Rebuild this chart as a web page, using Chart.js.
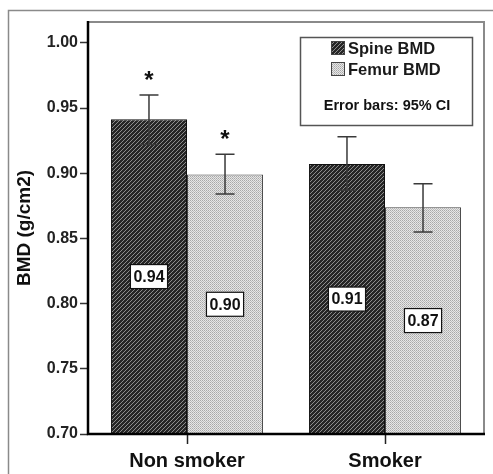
<!DOCTYPE html>
<html>
<head>
<meta charset="utf-8">
<script src="https://cdn.jsdelivr.net/npm/chart.js@4.4.1/dist/chart.umd.min.js"></script>
<style>
  html, body { margin: 0; padding: 0; background: #fff; }
  #wrap { width: 493px; height: 474px; position: relative; }
</style>
</head>
<body>
<div id="wrap"><canvas id="chart" width="493" height="474"></canvas></div>
<script>
// data
var categories = ['Non smoker', 'Smoker']
var spineBMD = [0.9415, 0.907]
var femurBMD = [0.899, 0.874]
var spineLow = [0.922, 0.887]
var spineHigh = [0.960, 0.928]
var femurLow = [0.884, 0.855]
var femurHigh = [0.9146, 0.892]
var spineStar = [true, false]
var femurStar = [true, false]
var yTicks = [0.70, 0.75, 0.80, 0.85, 0.90, 0.95, 1.00]

// fill patterns
function hatchPattern() {
    var c = document.createElement('canvas')
    c.width = 4; c.height = 4
    var g = c.getContext('2d')
    g.fillStyle = '#262626'
    g.fillRect(0, 0, 4, 4)
    g.fillStyle = '#8c8c8c'
    for (var i = 0; i < 4; i++) g.fillRect(3 - i, i, 1, 1)
    return g.createPattern(c, 'repeat')
}
function dotPattern() {
    var c = document.createElement('canvas')
    c.width = 2; c.height = 2
    var g = c.getContext('2d')
    g.fillStyle = '#e6e6e6'
    g.fillRect(0, 0, 2, 2)
    g.fillStyle = '#a8a8a8'
    g.fillRect(0, 0, 1, 1)
    g.fillStyle = '#bcbcbc'
    g.fillRect(1, 1, 1, 1)
    return g.createPattern(c, 'repeat')
}
var spineFill = hatchPattern()
var femurFill = dotPattern()

var errLow = [spineLow, femurLow]
var errHigh = [spineHigh, femurHigh]
var stars = [spineStar, femurStar]

var extras = {
    id: 'extras',
    afterDatasetsDraw: function(chart) {
        var c = chart.ctx
        var a = chart.chartArea
        var y = chart.scales.y
        c.save()

        // outer frame
        c.strokeStyle = '#8a8a8a'
        c.lineWidth = 1.5
        c.beginPath()
        c.moveTo(8.5, 474); c.lineTo(8.5, 10.5); c.lineTo(493, 10.5)
        c.stroke()

        // top / right plot frame
        c.strokeStyle = '#8a8a8a'
        c.lineWidth = 2
        c.beginPath()
        c.moveTo(a.left, a.top); c.lineTo(a.right, a.top); c.lineTo(a.right, a.bottom)
        c.stroke()

        // left / bottom axis
        c.strokeStyle = '#000'
        c.lineWidth = 2.5
        c.beginPath()
        c.moveTo(a.left, a.top - 1); c.lineTo(a.left, a.bottom); c.lineTo(a.right + 1, a.bottom)
        c.stroke()

        // error bars, stars and value boxes
        chart.data.datasets.forEach(function(ds, di) {
            var meta = chart.getDatasetMeta(di)
            meta.data.forEach(function(bar, i) {
                var x = bar.x
                var top = y.getPixelForValue(errHigh[di][i])
                var bot = y.getPixelForValue(errLow[di][i])
                c.strokeStyle = '#3a3a3a'
                c.lineWidth = 1.5
                c.beginPath()
                c.moveTo(x, top); c.lineTo(x, bot)
                c.moveTo(x - 9.5, top); c.lineTo(x + 9.5, top)
                c.moveTo(x - 9.5, bot); c.lineTo(x + 9.5, bot)
                c.stroke()

                if (stars[di][i]) {
                    c.fillStyle = '#111'
                    c.font = 'bold 24px Arial, "Liberation Sans"'
                    c.textAlign = 'center'
                    c.textBaseline = 'middle'
                    c.fillText('*', x, top - 14)
                }

                var label = ds.data[i].toFixed(2)
                var cy = (y.getPixelForValue(ds.data[i]) + a.bottom) / 2
                c.font = 'bold 16px Arial, "Liberation Sans"'
                var w = c.measureText(label).width + 6
                c.fillStyle = '#fff'
                c.fillRect(x - w / 2, cy - 12, w, 24)
                c.strokeStyle = '#111'
                c.lineWidth = 1.2
                c.strokeRect(x - w / 2, cy - 12, w, 24)
                c.fillStyle = '#111'
                c.textAlign = 'center'
                c.textBaseline = 'middle'
                c.fillText(label, x, cy + 1)
            })
        })

        // legend box
        var lx = a.right - 184, ly = a.top + 15, lw = 172, lh = 88
        c.strokeStyle = '#555'
        c.lineWidth = 1.5
        c.strokeRect(lx + 0.5, ly + 0.5, lw, lh)
        var items = [['Spine BMD', spineFill, 11], ['Femur BMD', femurFill, 32]]
        items.forEach(function(it) {
            c.fillStyle = it[1]
            c.fillRect(lx + 31, ly + it[2] - 7, 14, 14)
            c.strokeStyle = '#444'
            c.lineWidth = 1
            c.strokeRect(lx + 31.5, ly + it[2] - 6.5, 13, 13)
            c.fillStyle = '#1a1a1a'
            c.font = 'bold 16.5px Arial, "Liberation Sans"'
            c.textAlign = 'left'
            c.textBaseline = 'middle'
            c.fillText(it[0], lx + 48, ly + it[2] + 1)
        })
        c.fillStyle = '#111'
        c.font = 'bold 14.5px Arial, "Liberation Sans"'
        c.textAlign = 'center'
        c.fillText('Error bars: 95% CI', lx + lw / 2 + 1, ly + 69)

        c.restore()
    }
}

var ctx = document.getElementById('chart').getContext('2d')
var chart = new Chart(ctx, {
    type: 'bar',
    data: {
        labels: categories,
        datasets: [{
            label: 'Spine BMD',
            data: spineBMD,
            backgroundColor: spineFill,
            borderColor: '#111',
            borderWidth: 1
        }, {
            label: 'Femur BMD',
            data: femurBMD,
            backgroundColor: femurFill,
            borderColor: '#444',
            borderWidth: 1
        }]
    },
    options: {
        responsive: false,
        animation: false,
        layout: { padding: { top: 22, right: 9, left: 0, bottom: 0 } },
        datasets: { bar: { categoryPercentage: 0.768, barPercentage: 1 } },
        plugins: { legend: { display: false }, tooltip: { enabled: false } },
        scales: {
            x: {
                border: { display: false },
                grid: { drawOnChartArea: false, offset: false, tickLength: 10, tickColor: '#222', tickWidth: 1.5 },
                ticks: { color: '#111', padding: 5, font: { family: 'Arial, "Liberation Sans"', size: 20, weight: 'bold' } },
                afterFit: function(s) { s.height = 40 }
            },
            y: {
                min: 0.70,
                max: 1.016,
                border: { display: false },
                grid: { drawOnChartArea: false, tickLength: 8, tickColor: '#333', tickWidth: 1.5 },
                ticks: {
                    includeBounds: false,
                    color: '#222',
                    padding: 2,
                    font: { family: 'Arial, "Liberation Sans"', size: 16, weight: 'bold' },
                    callback: function(v) { return Number(v).toFixed(2) }
                },
                afterBuildTicks: function(s) { s.ticks = yTicks.map(function(v) { return { value: v } }) },
                title: {
                    display: true,
                    text: 'BMD (g/cm2)',
                    color: '#111',
                    padding: { top: 13, bottom: 0 },
                    font: { family: 'Arial, "Liberation Sans"', size: 19, weight: 'bold' }
                },
                afterFit: function(s) { s.width = 88 }
            }
        }
    },
    plugins: [extras]
})
</script>
</body>
</html>
